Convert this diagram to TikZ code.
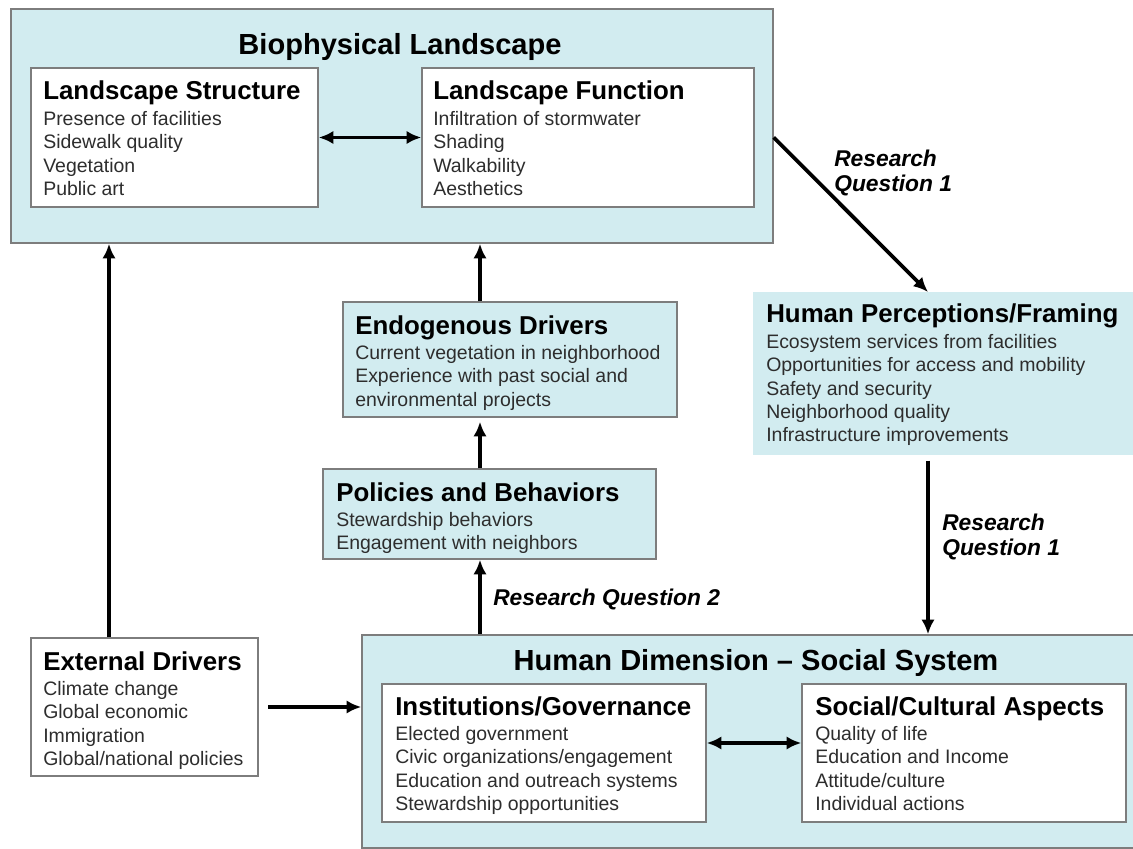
\documentclass[tikz,border=0pt]{standalone}
\usepackage{fontspec}
\setmainfont{Liberation Sans}
\usetikzlibrary{arrows.meta,fit}

\definecolor{boxblue}{RGB}{210,236,240}
\definecolor{boxline}{RGB}{125,125,125}
\definecolor{bodytext}{RGB}{45,45,45}

\newcommand{\bigtitle}{\fontsize{21.8}{26}\selectfont\bfseries}
\newcommand{\boxtitle}{\fontsize{19.4}{23}\selectfont\bfseries}
\newcommand{\boxbody}{\fontsize{14.6}{17.5}\selectfont}
\newcommand{\rqfont}{\fontsize{17.1}{18.75}\selectfont\bfseries\itshape}

\tikzset{
  bluebox/.style={draw=boxline, fill=boxblue, line width=1.1pt, inner sep=0pt},
  plainbox/.style={draw=none, fill=boxblue, inner sep=0pt},
  whitebox/.style={draw=boxline, fill=white, line width=1.1pt, inner sep=0pt},
  headtext/.style={anchor=base west, inner sep=0pt, font=\boxtitle},
  listtext/.style={anchor=north west, inner sep=0pt, align=left, font=\boxbody, text=bodytext},
  rqtext/.style={inner sep=0pt, align=left, font=\rqfont},
  flow/.style={line width=2.8pt, -{Latex[length=11pt,width=10pt]}},
  twoway/.style={line width=2.8pt, {Latex[length=11pt,width=10pt]}-{Latex[length=11pt,width=10pt]}}
}

\begin{document}
\begin{tikzpicture}[x=0.75pt,y=0.75pt,yscale=-1,xscale=1]
        \useasboundingbox (0,0) rectangle (1133,849);
        \clip (0,0) rectangle (1133,849);

        % Boxes
        \node[bluebox, fit={(11,9) (773,243)}] (bio) {};
        \node[whitebox, fit={(31,68) (318,207)}] (ls) {};
        \node[whitebox, fit={(422,68) (754,207)}] (lf) {};
        \node[bluebox, fit={(343,302) (677,417)}] (endo) {};
        \node[bluebox, fit={(323,469) (656,559)}] (pol) {};
        \node[plainbox, fit={(753,292) (1140,455)}] (hp) {};
        \node[whitebox, fit={(31,638) (258,776)}] (ext) {};
        \node[bluebox, fit={(362,635) (1140,848)}] (hd) {};
        \node[whitebox, fit={(382,684) (706,822)}] (inst) {};
        \node[whitebox, fit={(802,684) (1126,822)}] (soc) {};

        % Helper points
        \coordinate (spine) at (480,600);
        \coordinate (extup) at (109,600);
        \coordinate (rqin) at (928,292);
        \coordinate (link) at (754,743);

        % Text Node
        \node[anchor=base, inner sep=0pt, font=\bigtitle] (biot) at (400,55) {Biophysical Landscape};
        % Text Node
        \node[headtext] (lst) at (43,100) {Landscape Structure};
        \node[listtext] (lsb) at (43,111) {Presence of facilities\\Sidewalk quality\\Vegetation\\Public art};
        % Text Node
        \node[headtext] (lft) at (433,100) {Landscape Function};
        \node[listtext] (lfb) at (433,111) {Infiltration of stormwater\\Shading\\Walkability\\Aesthetics};
        % Text Node
        \node[headtext] (endot) at (355,334) {Endogenous Drivers};
        \node[listtext] (endob) at (355,345) {Current vegetation in neighborhood\\Experience with past social and\\environmental projects};
        % Text Node
        \node[headtext] (polt) at (336,501) {Policies and Behaviors};
        \node[listtext] (polb) at (336,512) {Stewardship behaviors\\Engagement with neighbors};
        % Text Node
        \node[headtext] (hpt) at (766,322) {Human Perceptions/Framing};
        \node[listtext] (hpb) at (766,334) {Ecosystem services from facilities\\Opportunities for access and mobility\\Safety and security\\Neighborhood quality\\Infrastructure improvements};
        % Text Node
        \node[headtext] (extt) at (43,670) {External Drivers};
        \node[listtext] (extb) at (43,681) {Climate change\\Global economic\\Immigration\\Global/national policies};
        % Text Node
        \node[anchor=base, inner sep=0pt, font=\bigtitle] (hdt) at (756,670) {Human Dimension -- Social System};
        % Text Node
        \node[headtext] (instt) at (395,715) {Institutions/Governance};
        \node[listtext] (instb) at (395,726) {Elected government\\Civic organizations/engagement\\Education and outreach systems\\Stewardship opportunities};
        % Text Node
        \node[headtext] (soct) at (815,715) {Social/Cultural Aspects};
        \node[listtext] (socb) at (815,726) {Quality of life\\Education and Income\\Attitude/culture\\Individual actions};

        % Research questions
        \node[rqtext, anchor=north west] (rq1a) at (834,150) {Research\\Question 1};
        \node[rqtext, anchor=north west] (rq1b) at (942,514) {Research\\Question 1};
        \node[rqtext, anchor=base west] (rq2) at (493,605) {Research Question 2};

        % Connectors
        \draw[twoway] (ls.east) -- (lf.west);
        \draw[twoway] (inst.east |- link) -- (soc.west |- link);
        \draw[flow] (bio.east |- lf.east) -- (rqin);
        \draw[flow, shorten <=4pt] (rqin |- hp.south) -- (rqin |- hd.north);
        \draw[flow] (spine |- endo.north) -- (spine |- bio.south);
        \draw[flow, shorten >=3pt] (spine |- pol.north) -- (spine |- endo.south);
        \draw[flow] (spine |- hd.north) -- (spine |- pol.south);
        \draw[flow] (extup |- ext.north) -- (extup |- bio.south);
        \draw[flow, shorten <=7pt] (ext.east) -- (hd.west |- ext.east);
\end{tikzpicture}
\end{document}
